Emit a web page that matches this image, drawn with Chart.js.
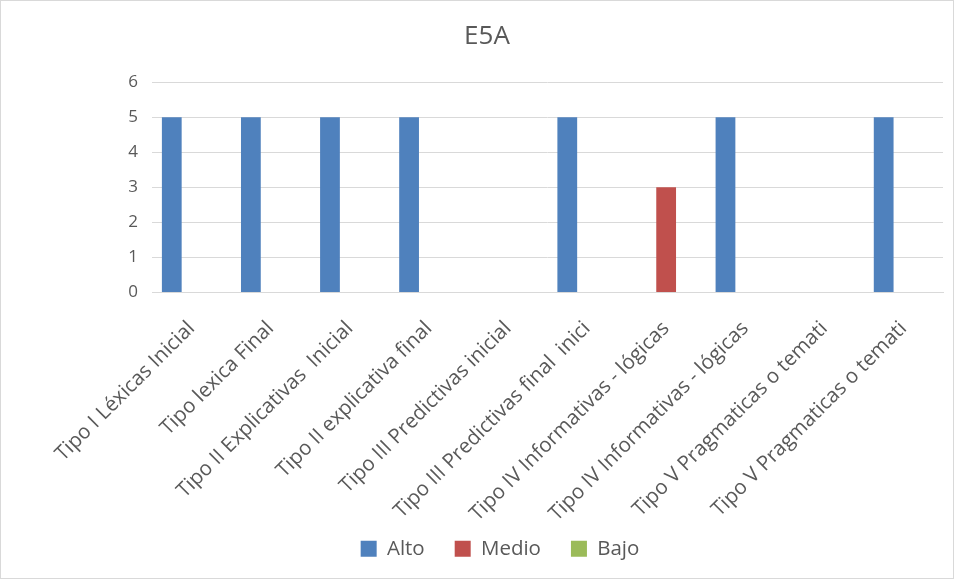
<!DOCTYPE html>
<html>
<head>
<meta charset="utf-8">
<script src="https://cdn.jsdelivr.net/npm/chart.js@4/dist/chart.umd.min.js"></script>
<style>
  html, body { margin: 0; padding: 0; background: #ffffff; }
  #wrap { position: relative; width: 952px; height: 577px; border: 1px solid #d9d9d9; }
</style>
</head>
<body>
<div id="wrap"><canvas id="chart" width="952" height="577"></canvas></div>
<script>
// Categories (as shown on the axis) and series values
const categories = [
  "Tipo I Léxicas Inicial",
  "Tipo lexica Final",
  "Tipo II Explicativas  Inicial",
  "Tipo II explicativa final",
  "Tipo III Predictivas inicial",
  "Tipo III Predictivas final  inici",
  "Tipo IV Informativas - lógicas",
  "Tipo IV Informativas - lógicas",
  "Tipo V Pragmaticas o temati",
  "Tipo V Pragmaticas o temati"
];
const alto  = [5, 5, 5, 5, 0, 5, 0, 5, 0, 5];
const medio = [0, 0, 0, 0, 0, 0, 3, 0, 0, 0];
const bajo  = [0, 0, 0, 0, 0, 0, 0, 0, 0, 0];
const yTicks = [0, 1, 2, 3, 4, 5, 6];

const textGray = "#595959";
const gridGray = "#d9d9d9";
const fontFamily = "'Open Sans', sans-serif";

// The rotated category labels run a little past the x-axis box into the
// legend's top margin; widen the label clip area so they are not cut off.
// The legend is also nudged to sit centred under the plot area.
const layoutTweaks = {
  id: "layoutTweaks",
  afterLayout(chart) {
    chart.scales.x.bottom = chart.height;
    const shift = 13;
    chart.legend.left += shift;
    chart.legend.right += shift;
  }
};

new Chart(document.getElementById("chart"), {
  type: "bar",
  data: {
    labels: categories,
    datasets: [
      { label: "Alto",  data: alto,  backgroundColor: "#4f81bd" },
      { label: "Medio", data: medio, backgroundColor: "#c0504d" },
      { label: "Bajo",  data: bajo,  backgroundColor: "#9bbb59" }
    ]
  },
  plugins: [layoutTweaks],
  options: {
    responsive: false,
    animation: false,
    devicePixelRatio: 1,
    layout: { padding: { left: 30, right: 10, top: 20, bottom: 9 } },
    datasets: { bar: { categoryPercentage: 0.75, barPercentage: 1.0, borderWidth: 0 } },
    plugins: {
      title: {
        display: true,
        text: "E5A",
        color: textGray,
        font: { family: fontFamily, size: 26, weight: "normal" },
        padding: { top: 0, bottom: 30 }
      },
      legend: {
        position: "bottom",
        labels: {
          color: textGray,
          font: { family: fontFamily, size: 20.5 },
          boxWidth: 16,
          boxHeight: 16,
          padding: 30
        }
      },
      tooltip: { enabled: false }
    },
    scales: {
      x: {
        afterFit: (axis) => { axis.height = 216; },
        grid: { display: false },
        border: { color: gridGray, width: 1 },
        ticks: {
          color: textGray,
          font: { family: fontFamily, size: 20.5 },
          minRotation: 45,
          maxRotation: 45,
          autoSkip: false,
          padding: 16
        }
      },
      y: {
        min: 0,
        max: 6,
        afterBuildTicks: (axis) => { axis.ticks = yTicks.map(v => ({ value: v })); },
        afterFit: (axis) => { axis.width = 121; },
        grid: { color: gridGray, lineWidth: 1, drawTicks: false },
        border: { display: false },
        ticks: {
          color: textGray,
          font: { family: fontFamily, size: 17 },
          padding: 14
        }
      }
    }
  }
});
</script>
</body>
</html>
